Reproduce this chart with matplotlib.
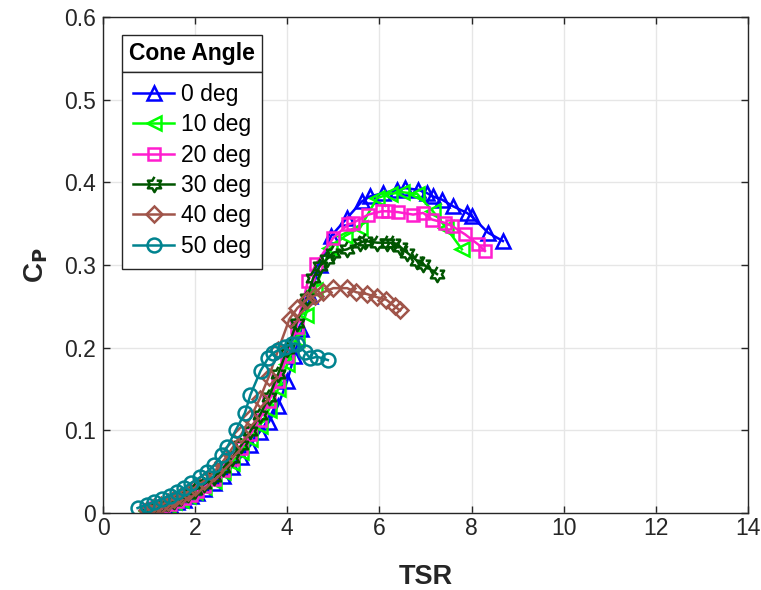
import numpy as np
import matplotlib
matplotlib.use('Agg')
import matplotlib.pyplot as plt
from matplotlib.path import Path
from matplotlib.patches import Rectangle

plt.rcParams['font.family'] = ['Liberation Sans', 'DejaVu Sans']

# TSR / Cp samples for each cone angle
tsr_0 = [1.0, 1.15, 1.3, 1.45, 1.6, 1.75, 1.9, 2.05, 2.2, 2.4, 2.6, 2.8, 3.0, 3.2, 3.4, 3.6,
         3.8, 4.0, 4.15, 4.3, 4.5, 4.7, 4.95, 5.3, 5.62, 5.8, 6.08, 6.38, 6.56, 6.84, 7.03,
         7.16, 7.36, 7.6, 7.9, 8.0, 8.36, 8.68]
cp_0 = [0.003, 0.005, 0.007, 0.010, 0.013, 0.016, 0.020, 0.024, 0.029, 0.036, 0.045, 0.056,
        0.068, 0.082, 0.098, 0.110, 0.130, 0.160, 0.190, 0.222, 0.262, 0.300, 0.335, 0.357,
        0.377, 0.383, 0.387, 0.391, 0.393, 0.391, 0.387, 0.383, 0.379, 0.371, 0.363, 0.359,
        0.339, 0.329]

tsr_10 = [0.95, 1.1, 1.25, 1.4, 1.55, 1.7, 1.85, 2.0, 2.2, 2.4, 2.6, 2.8, 3.0, 3.2, 3.4, 3.6,
          3.8, 4.0, 4.2, 4.4, 4.6, 4.93, 5.25, 5.58, 5.95, 6.23, 6.5, 6.82, 7.16, 7.45, 7.79]
cp_10 = [0.003, 0.005, 0.007, 0.010, 0.013, 0.016, 0.020, 0.025, 0.031, 0.039, 0.049, 0.061,
         0.074, 0.090, 0.105, 0.125, 0.150, 0.180, 0.210, 0.240, 0.270, 0.320, 0.335, 0.345,
         0.381, 0.386, 0.388, 0.386, 0.365, 0.345, 0.319]

tsr_20 = [1.0, 1.15, 1.3, 1.45, 1.6, 1.75, 1.9, 2.05, 2.2, 2.4, 2.6, 2.8, 3.0, 3.2, 3.4, 3.6,
          3.8, 4.0, 4.2, 4.45, 4.62, 5.0, 5.32, 5.43, 5.76, 6.05, 6.19, 6.4, 6.73, 6.95, 7.14,
          7.42, 7.58, 7.86, 8.14, 8.29]
cp_20 = [0.004, 0.006, 0.008, 0.011, 0.014, 0.018, 0.022, 0.027, 0.033, 0.041, 0.052, 0.065,
         0.079, 0.095, 0.113, 0.135, 0.160, 0.190, 0.225, 0.281, 0.301, 0.333, 0.349, 0.351,
         0.361, 0.365, 0.365, 0.364, 0.361, 0.363, 0.355, 0.351, 0.347, 0.337, 0.325, 0.317]

tsr_30 = [0.95, 1.1, 1.25, 1.4, 1.55, 1.7, 1.85, 2.0, 2.2, 2.4, 2.6, 2.8, 3.0, 3.2, 3.4, 3.6,
          3.8, 4.0, 4.2, 4.43, 4.56, 4.71, 4.86, 5.0, 5.3, 5.58, 5.69, 5.95, 6.16, 6.3, 6.45,
          6.6, 6.82, 6.95, 7.25]
cp_30 = [0.004, 0.006, 0.009, 0.012, 0.015, 0.019, 0.023, 0.028, 0.035, 0.043, 0.054, 0.067,
         0.082, 0.099, 0.118, 0.140, 0.168, 0.198, 0.230, 0.260, 0.284, 0.299, 0.307, 0.315,
         0.319, 0.327, 0.329, 0.327, 0.327, 0.327, 0.322, 0.315, 0.305, 0.301, 0.289]

tsr_40 = [0.95, 1.1, 1.25, 1.4, 1.55, 1.7, 1.85, 2.0, 2.2, 2.4, 2.6, 2.8, 3.0, 3.2, 3.4, 3.6,
          3.8, 4.05, 4.22, 4.42, 4.6, 4.78, 5.0, 5.3, 5.5, 5.72, 5.95, 6.15, 6.33, 6.45]
cp_40 = [0.004, 0.007, 0.010, 0.013, 0.017, 0.021, 0.026, 0.031, 0.039, 0.049, 0.062, 0.078,
         0.095, 0.115, 0.138, 0.165, 0.197, 0.235, 0.248, 0.258, 0.263, 0.267, 0.272, 0.272,
         0.267, 0.265, 0.261, 0.258, 0.250, 0.245]

tsr_50 = [0.75, 0.95, 1.1, 1.28, 1.45, 1.6, 1.75, 1.9, 2.1, 2.25, 2.42, 2.58, 2.7, 2.88, 3.08,
          3.2, 3.42, 3.58, 3.68, 3.8, 3.95, 4.1, 4.2, 4.38, 4.5, 4.65, 4.88]
cp_50 = [0.006, 0.010, 0.013, 0.017, 0.021, 0.025, 0.030, 0.036, 0.043, 0.049, 0.058, 0.070,
         0.080, 0.100, 0.121, 0.143, 0.172, 0.187, 0.193, 0.197, 0.201, 0.205, 0.205, 0.195,
         0.187, 0.189, 0.185]

labels = ['0 deg', '10 deg', '20 deg', '30 deg', '40 deg', '50 deg']

# six-pointed star marker (two overlapping triangles)
ang = np.deg2rad(np.arange(12) * 30 + 90)
rad = np.where(np.arange(12) % 2 == 0, 1.0, 0.577)
hexagram = Path(np.column_stack([rad * np.cos(ang), rad * np.sin(ang)]))

styles = [
    dict(color='#0000ff', marker='^', ms=10.5),
    dict(color='#00ff00', marker='<', ms=10.5),
    dict(color='#ff1dce', marker='s', ms=8),
    dict(color='#005500', marker=hexagram, ms=11),
    dict(color='#a0554a', marker='D', ms=8),
    dict(color='#00838f', marker='o', ms=10),
]
series = [(tsr_0, cp_0), (tsr_10, cp_10), (tsr_20, cp_20),
          (tsr_30, cp_30), (tsr_40, cp_40), (tsr_50, cp_50)]

fig = plt.figure(figsize=(7.61, 5.90), dpi=100)
ax = fig.add_axes([103 / 761, 77 / 590, 645 / 761, 496 / 590])

handles = []
for (x, y), st, lab in zip(series, styles, labels):
    h, = ax.plot(x, y, color=st['color'], lw=1.8, marker=st['marker'], ms=st['ms'],
                 mfc='none', mec=st['color'], mew=1.8, label=lab)
    handles.append(h)

ax.set_xlim(0, 14)
ax.set_ylim(0, 0.6)
ax.set_xticks(np.arange(0, 15, 2))
ax.set_yticks(np.arange(0, 0.61, 0.1))
ax.set_yticklabels(['0', '0.1', '0.2', '0.3', '0.4', '0.5', '0.6'])
ax.grid(True, color='#e6e6e6', lw=1)
ax.set_axisbelow(True)
ax.tick_params(direction='in', length=5, width=1, colors='#262626', labelsize=16.5,
               top=True, right=True, pad=5)
ax.tick_params(axis='x', pad=3)
for s in ax.spines.values():
    s.set_color('#262626')
    s.set_linewidth(1)

ax.set_xlabel('TSR', fontsize=19.5, fontweight='bold', color='#262626', labelpad=17)
ax.set_ylabel(r'C$_\mathbf{P}$', fontsize=20, fontweight='bold', color='#262626', labelpad=10)

leg = ax.legend(handles=handles, loc='upper left', bbox_to_anchor=(0.0295, 0.889),
                borderaxespad=0, fontsize=16.5, frameon=True, fancybox=False,
                handlelength=1.8, handletextpad=0.3, labelspacing=0.32,
                borderpad=0.48, edgecolor='#262626', framealpha=1)
leg.get_frame().set_linewidth(1)

# title box above the legend, same width
fig.canvas.draw()
bb = leg.get_window_extent().transformed(ax.transAxes.inverted())
top = 0.964
ax.add_patch(Rectangle((bb.x0, bb.y1), bb.width, top - bb.y1, transform=ax.transAxes,
                       fc='white', ec='#262626', lw=1, zorder=5, clip_on=False))
ax.text(bb.x0 + bb.width / 2, (bb.y1 + top) / 2, 'Cone Angle', transform=ax.transAxes,
        ha='center', va='center', fontsize=16.5, fontweight='bold', color='black', zorder=6)

fig.savefig('out.png', dpi=100)
